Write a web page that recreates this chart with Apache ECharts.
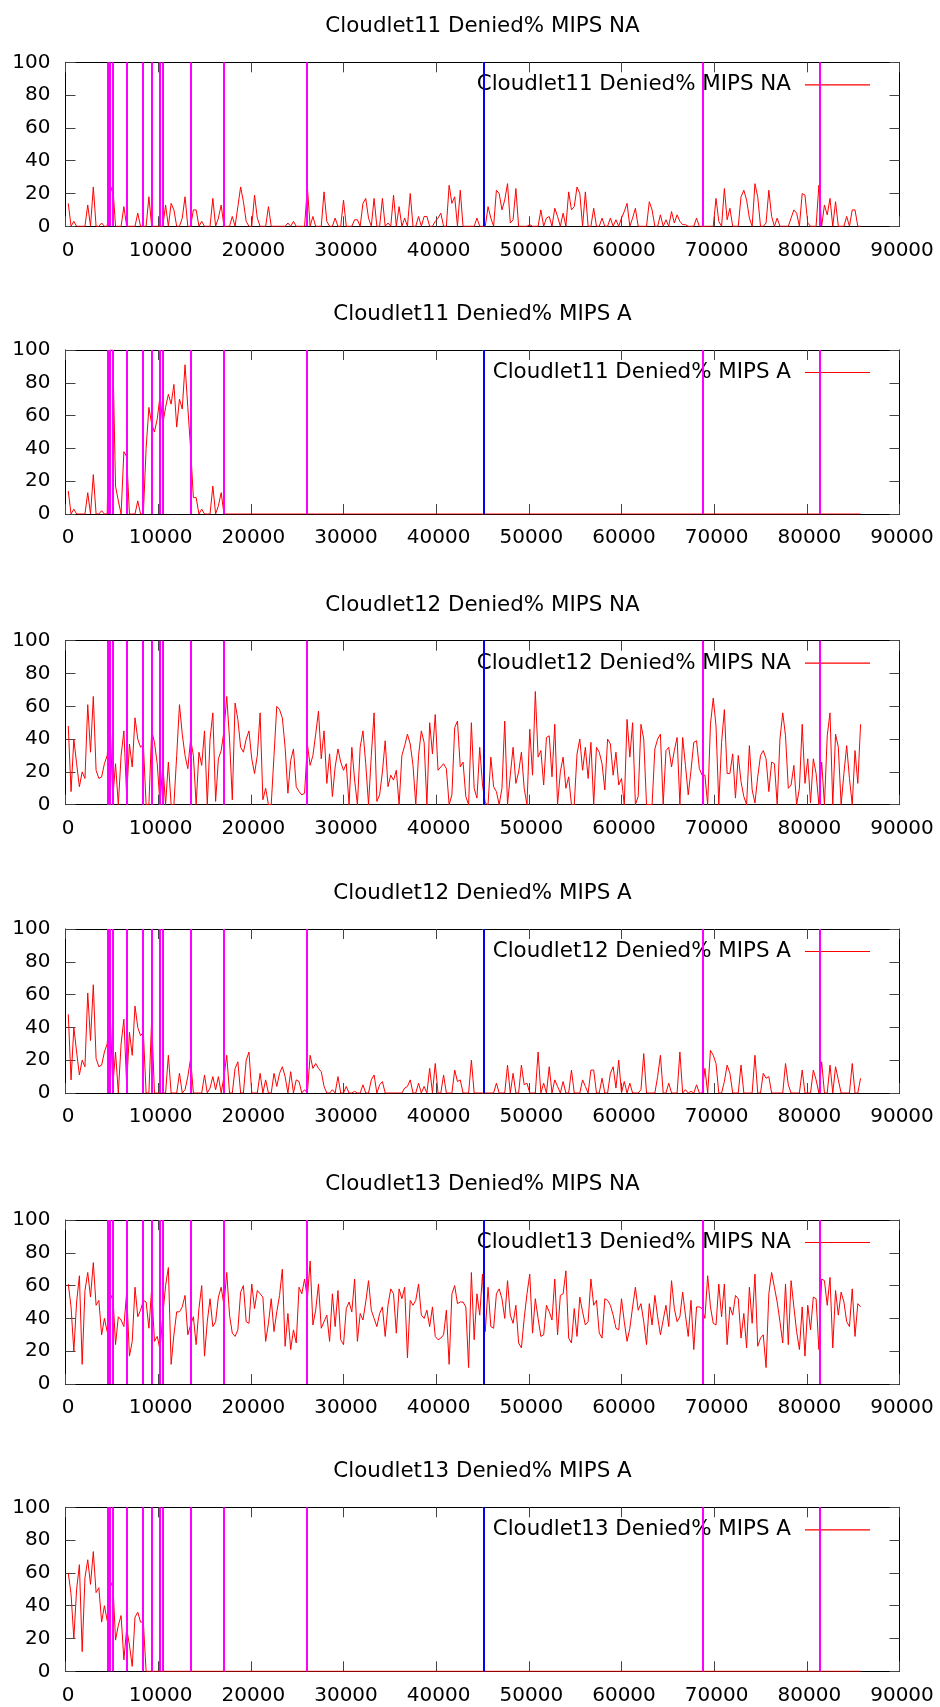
<!DOCTYPE html>
<html>
<head>
<meta charset="utf-8">
<script src="https://cdn.jsdelivr.net/npm/echarts@6/dist/echarts.min.js"></script>
<style>
html, body { margin: 0; padding: 0; background: #fff; }
#chart { width: 940px; height: 1707px; }
</style>
</head>
<body>
<div id="chart"></div>
<script>
// Sampling interval of the monitor (seconds); sample k is taken at k * STEP.
const STEP = 300;

// Vertical event markers (seconds).
const magentaMarks = [4510, 4750, 5090, 6620, 8350, 9320, 10180, 10480, 13500, 17080, 26060, 68790, 81420];
const blueMarks = [45170];

// Denied MIPS percentage per sample.
const c11NA = [
  14,0,3,0,0,0,0,13,0,24, 0,0,2,0,0,20,25,0,0,0, 12,0,0,0,0,8,0,0,0,18,
  0,0,0,0,0,13,0,14,10,0, 0,5,18,0,0,10,10,0,3,0, 0,0,17,0,5,13,0,0,0,6,
  0,12,24,15,3,0,0,19,5,0, 0,0,12,0,0,0,0,0,0,2, 0,3,0,0,0,0,24,0,6,0,
  0,0,21,3,0,0,5,0,0,16, 0,0,0,4,4,0,14,17,5,0, 17,0,0,17,0,2,0,19,0,12,
  0,5,0,20,0,0,6,0,6,6, 0,0,3,5,8,0,0,25,14,18, 0,22,0,0,0,0,0,5,0,0,
  0,12,5,0,22,20,10,16,26,2, 4,23,0,0,0,0,1,0,0,0, 10,0,5,6,0,11,6,0,8,0,
  21,10,12,24,20,0,21,0,0,11, 0,0,5,0,0,5,0,4,0,5, 9,14,0,5,11,0,0,0,0,15,
  10,0,0,7,0,4,0,9,2,7, 3,1,1,0,0,0,5,0,0,0, 0,0,0,17,3,0,23,4,11,0,
  0,0,18,22,16,5,0,26,18,0, 0,2,22,6,0,5,0,0,0,0, 5,10,8,0,20,19,2,0,0,0,
  25,0,13,7,17,0,15,0,0,0, 6,0,10,10,0,0
];

const c11A = [
  14,0,3,0,0,0,0,13,0,24, 0,0,2,0,0,100,100,17,8,0, 38,35,0,0,0,8,0,0,40,65,
  55,50,58,72,55,65,73,67,79,53, 70,64,91,65,40,10,10,0,3,0, 0,0,17,0,5,13,0,0,0,0,
  0,0,0,0,0,0,0,0,0,0, 0,0,0,0,0,0,0,0,0,0, 0,0,0,0,0,0,0,0,0,0,
  0,0,0,0,0,0,0,0,0,0, 0,0,0,0,0,0,0,0,0,0, 0,0,0,0,0,0,0,0,0,0,
  0,0,0,0,0,0,0,0,0,0, 0,0,0,0,0,0,0,0,0,0, 0,0,0,0,0,0,0,0,0,0,
  0,0,0,0,0,0,0,0,0,0, 0,0,0,0,0,0,0,0,0,0, 0,0,0,0,0,0,0,0,0,0,
  0,0,0,0,0,0,0,0,0,0, 0,0,0,0,0,0,0,0,0,0, 0,0,0,0,0,0,0,0,0,0,
  0,0,0,0,0,0,0,0,0,0, 0,0,0,0,0,0,0,0,0,0, 0,0,0,0,0,0,0,0,0,0,
  0,0,0,0,0,0,0,0,0,0, 0,0,0,0,0,0,0,0,0,0, 0,0,0,0,0,0,0,0,0,0,
  0,0,0,0,0,0,0,0,0,0, 0,0,0,0,0,0
];

const c12NA = [
  48,8,40,25,11,20,16,61,32,66, 21,16,17,25,30,53,4,25,0,30, 45,5,37,23,53,40,35,37,0,0,
  45,38,25,0,25,0,26,0,0,30, 61,43,30,22,40,30,0,32,24,45, 0,40,56,2,28,33,45,66,40,3,
  62,52,35,32,40,45,28,19,30,56, 3,10,0,0,30,60,58,53,35,7, 27,34,11,8,6,7,37,24,30,43,
  57,28,45,13,31,5,23,34,26,21, 25,0,35,15,0,35,45,25,0,30, 56,2,6,20,39,11,18,15,21,0,
  30,36,43,37,24,0,30,45,38,0, 50,31,55,21,23,25,22,0,6,47, 51,23,26,5,0,50,10,4,35,12,
  1,0,29,11,8,0,10,51,0,18, 35,13,20,32,10,0,46,18,69,29, 33,12,41,42,17,49,0,20,29,10,
  17,0,0,31,40,21,35,16,38,0, 35,32,25,9,40,37,18,32,12,16, 0,52,29,50,0,5,49,40,0,0,
  0,34,40,43,0,33,35,23,33,41, 0,41,24,6,21,38,39,22,18,18, 0,49,65,48,0,38,58,19,19,31,
  4,30,14,5,0,36,9,1,17,30, 33,28,8,26,25,0,40,56,42,10, 12,24,0,10,49,13,28,1,28,19,
  0,26,0,42,56,0,43,35,0,19, 36,16,0,33,13,49
];

const c12A = [
  48,8,40,25,11,20,16,61,32,66, 21,16,17,25,30,53,4,25,0,30, 45,5,37,23,53,40,35,37,0,0,
  45,0,0,0,0,0,23,0,0,0, 12,0,2,10,21,0,0,0,0,11, 0,3,10,2,10,0,10,23,0,0,
  15,19,0,0,20,25,0,0,0,12, 0,8,0,0,12,4,12,16,10,0, 13,0,8,7,0,2,0,23,15,18,
  15,13,4,0,0,2,0,10,0,0, 4,0,0,1,0,0,5,0,0,8, 11,0,5,7,0,0,0,0,0,0,
  0,3,4,8,0,0,6,0,4,0, 15,0,18,0,0,11,0,0,0,14, 7,8,0,0,0,20,0,0,0,0,
  0,0,0,0,6,0,0,0,17,0, 12,0,0,17,5,6,0,0,0,25, 0,6,0,16,0,8,4,0,7,0,
  0,14,0,0,0,8,4,0,14,14, 0,0,9,0,0,12,16,3,20,0, 7,0,6,0,0,0,2,24,0,0,
  0,0,10,23,0,0,6,0,0,0, 25,0,2,0,1,0,5,0,0,15, 0,26,23,18,0,0,7,17,12,0,
  0,0,17,0,0,0,0,23,0,0, 12,9,10,0,0,0,0,0,18,5, 0,0,0,0,14,0,0,0,14,8,
  0,19,0,0,17,0,16,8,0,0, 0,0,18,0,0,9
];

const c13NA = [
  61,47,20,50,66,12,57,68,53,74, 48,51,30,40,32,51,55,24,41,39, 35,56,17,26,59,41,45,51,50,34,
  58,26,29,21,42,60,71,12,30,44, 44,47,54,30,36,41,24,46,60,17, 38,52,35,38,53,59,48,68,42,31,
  29,33,56,60,38,37,61,46,57,55, 53,26,37,52,32,44,54,70,23,43, 21,33,25,59,55,64,52,75,36,45,
  61,34,38,42,26,55,35,57,27,24, 46,50,44,64,26,43,39,50,63,45, 40,35,43,47,29,48,58,55,31,58,
  52,59,16,51,48,51,61,42,40,45, 35,47,29,27,28,30,45,12,55,60, 49,50,50,47,10,68,27,55,42,67,
  32,59,35,34,55,58,52,40,63,42, 37,48,25,22,40,55,67,31,52,40, 29,30,48,44,39,64,30,54,55,69,
  28,25,46,29,53,44,36,38,64,48, 51,31,28,52,51,48,42,34,33,52, 38,26,34,47,59,45,49,38,24,49,
  36,54,41,30,39,48,35,63,46,38, 41,56,42,29,51,21,47,47,46,40, 66,47,37,36,61,41,61,24,47,42,
  54,52,28,43,22,59,37,67,23,28, 30,10,55,68,59,50,38,25,61,24, 63,47,32,21,47,17,48,33,53,52,
  21,64,63,48,65,22,57,42,56,50, 38,35,58,29,49,47
];

const c13A = [
  60,47,20,50,65,12,57,68,53,73, 48,51,30,40,31,51,55,19,28,34, 7,26,16,3,33,36,30,30,0,0,
  0,0,0,0,0,0,0,0,0,0, 0,0,0,0,0,0,0,0,0,0, 0,0,0,0,0,0,0,0,0,0,
  0,0,0,0,0,0,0,0,0,0, 0,0,0,0,0,0,0,0,0,0, 0,0,0,0,0,0,0,0,0,0,
  0,0,0,0,0,0,0,0,0,0, 0,0,0,0,0,0,0,0,0,0, 0,0,0,0,0,0,0,0,0,0,
  0,0,0,0,0,0,0,0,0,0, 0,0,0,0,0,0,0,0,0,0, 0,0,0,0,0,0,0,0,0,0,
  0,0,0,0,0,0,0,0,0,0, 0,0,0,0,0,0,0,0,0,0, 0,0,0,0,0,0,0,0,0,0,
  0,0,0,0,0,0,0,0,0,0, 0,0,0,0,0,0,0,0,0,0, 0,0,0,0,0,0,0,0,0,0,
  0,0,0,0,0,0,0,0,0,0, 0,0,0,0,0,0,0,0,0,0, 0,0,0,0,0,0,0,0,0,0,
  0,0,0,0,0,0,0,0,0,0, 0,0,0,0,0,0,0,0,0,0, 0,0,0,0,0,0,0,0,0,0,
  0,0,0,0,0,0,0,0,0,0, 0,0,0,0,0,0
];

const panelTitles = [
  'Cloudlet11 Denied% MIPS NA',
  'Cloudlet11 Denied% MIPS A',
  'Cloudlet12 Denied% MIPS NA',
  'Cloudlet12 Denied% MIPS A',
  'Cloudlet13 Denied% MIPS NA',
  'Cloudlet13 Denied% MIPS A'
];
const panelSeries = [c11NA, c11A, c12NA, c12A, c13NA, c13A];

const xTicks = { min: 0, max: 90000, interval: 10000 };
const yTicks = { min: 0, max: 100, interval: 20 };

// Page layout
const FONT = 'DejaVu Sans';
const TEXT_SIZE = 21.4;
const plotLeft = 65.5;
const plotRight = 899.5;
const plotTops = [62.3, 350, 640.7, 929, 1220, 1507.3];
const plotH = 164;
const plotCenterX = (plotLeft + plotRight) / 2;

function toPairs(vals) {
  return vals.map((v, k) => [(k + 1) * STEP, v]);
}

const frameColor = '#000';
const tickColor = '#444';
const plainNumber = v => String(v);

function makeAxisLine() {
  return { show: true, onZero: false, lineStyle: { color: frameColor, width: 1 } };
}
function makeAxisTick() {
  return { show: true, inside: true, length: 10, lineStyle: { color: tickColor, width: 1 } };
}

const grids = [], xAxes = [], yAxes = [], series = [], titles = [], legends = [];

plotTops.forEach((top, g) => {
  grids.push({ left: plotLeft, width: plotRight - plotLeft, top: top, height: plotH, containLabel: false });

  // bottom and mirrored top x axes
  xAxes.push({
    type: 'value', gridIndex: g, position: 'bottom', min: xTicks.min, max: xTicks.max, interval: xTicks.interval,
    axisLine: makeAxisLine(), axisTick: makeAxisTick(), splitLine: { show: false },
    axisLabel: { show: true, fontFamily: FONT, fontSize: 20, color: '#000', margin: 14,
      padding: [0, 0, 0, 5], formatter: plainNumber }
  });
  xAxes.push({
    type: 'value', gridIndex: g, position: 'top', min: xTicks.min, max: xTicks.max, interval: xTicks.interval,
    axisLine: makeAxisLine(), axisTick: makeAxisTick(), splitLine: { show: false }, axisLabel: { show: false }
  });
  // left and mirrored right y axes
  yAxes.push({
    type: 'value', gridIndex: g, position: 'left', min: yTicks.min, max: yTicks.max, interval: yTicks.interval,
    axisLine: makeAxisLine(), axisTick: makeAxisTick(), splitLine: { show: false },
    axisLabel: { show: true, fontFamily: FONT, fontSize: 20, color: '#000', margin: 15, formatter: plainNumber }
  });
  yAxes.push({
    type: 'value', gridIndex: g, position: 'right', min: yTicks.min, max: yTicks.max, interval: yTicks.interval,
    axisLine: makeAxisLine(), axisTick: makeAxisTick(), splitLine: { show: false }, axisLabel: { show: false }
  });

  const xi = g * 2, yi = g * 2;

  // event markers, drawn beneath the data line
  const markData = magentaMarks.map(v => ({ xAxis: v, lineStyle: { color: '#ff00ff' } }))
    .concat(blueMarks.map(v => ({ xAxis: v, lineStyle: { color: '#0000ff' } })));
  series.push({
    name: 'markers' + g, type: 'line', xAxisIndex: xi, yAxisIndex: yi, data: [], z: 1,
    silent: true,
    markLine: {
      silent: true, symbol: ['none', 'none'], animation: false,
      label: { show: false },
      lineStyle: { width: 2, type: 'solid' },
      emphasis: { disabled: true },
      data: markData
    }
  });

  series.push({
    name: panelTitles[g], type: 'line', xAxisIndex: xi, yAxisIndex: yi,
    data: toPairs(panelSeries[g]),
    symbol: 'none', showSymbol: false, z: 3,
    lineStyle: { color: '#ff0000', width: 1 },
    itemStyle: { color: '#ff0000' },
    emphasis: { disabled: true },
    animation: false
  });

  titles.push({
    text: panelTitles[g], left: plotCenterX, top: top - 38 - 8, textAlign: 'center', padding: 0,
    textStyle: { fontFamily: FONT, fontSize: TEXT_SIZE, fontWeight: 'normal', color: '#000' }
  });

  legends.push({
    data: [{ name: panelTitles[g], icon: 'rect' }],
    right: 940 - 870, top: top + 22.5 - 12, padding: 0,
    align: 'right', itemWidth: 65, itemHeight: 1.2,
    itemStyle: { color: '#ff0000' },
    selectedMode: false,
    textStyle: { fontFamily: FONT, fontSize: TEXT_SIZE, color: '#000', lineHeight: 24, padding: [0, 9, 0, 0] }
  });
});

const chart = echarts.init(document.getElementById('chart'), null, { renderer: 'canvas' });
chart.setOption({
  animation: false,
  backgroundColor: '#fff',
  textStyle: { fontFamily: FONT },
  title: titles,
  legend: legends,
  grid: grids,
  xAxis: xAxes,
  yAxis: yAxes,
  series: series
});
</script>
</body>
</html>
